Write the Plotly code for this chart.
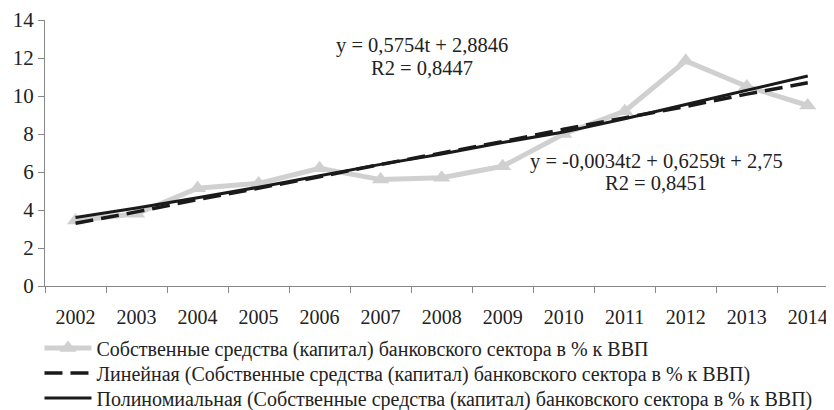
import plotly.graph_objects as go

years = ["2002", "2003", "2004", "2005", "2006", "2007", "2008",
         "2009", "2010", "2011", "2012", "2013", "2014"]
capital_pct = [3.45, 3.8, 5.15, 5.4, 6.2, 5.6, 5.7, 6.3, 8.0, 9.2, 11.85, 10.5, 9.5]
linear_trend = [3.3, 3.9, 4.55, 5.15, 5.75, 6.4, 7.0, 7.6, 8.25, 8.85, 9.45, 10.1, 10.7]
poly_trend = [3.6, 4.1, 4.65, 5.2, 5.8, 6.4, 6.95, 7.55, 8.1, 8.8, 9.55, 10.3, 11.05]

series_name = "Собственные средства (капитал) банковского сектора в % к ВВП"
FONT = "'Liberation Serif', 'Times New Roman', serif"
TXT = "#222"

fig = go.Figure()
fig.add_trace(go.Scatter(
    x=years, y=capital_pct, name=series_name, legend="legend",
    mode="lines+markers",
    line=dict(color="#d0d0d0", width=5),
    marker=dict(symbol="triangle-up", size=15, color="#d0d0d0"),
))
fig.add_trace(go.Scatter(
    x=years, y=linear_trend, name=f"Линейная ({series_name})", legend="legend2",
    mode="lines",
    line=dict(color="#1a1a1a", width=3.5, dash="18px,8px"),
))
fig.add_trace(go.Scatter(
    x=years, y=poly_trend, name=f"Полиномиальная ({series_name})", legend="legend3",
    mode="lines",
    line=dict(color="#1a1a1a", width=3),
))

# trend equations, one annotation per text line
for x, y, txt in [
    (5.67, 12.68, "y = 0,5754t + 2,8846"),
    (5.67, 11.47, "R2 = 0,8447"),
    (9.52, 6.53, "y = -0,0034t2 + 0,6259t + 2,75"),
    (9.52, 5.42, "R2 = 0,8451"),
]:
    fig.add_annotation(x=x, y=y, xref="x", yref="y", showarrow=False, text=txt,
                       font=dict(family=FONT, size=20.5, color=TXT))

legend_style = dict(x=-0.007, xanchor="left", yanchor="middle",
                    font=dict(family=FONT, size=20, color=TXT),
                    bgcolor="rgba(0,0,0,0)", itemwidth=47)

# page body has an 8px margin, so the figure is a bit smaller than the window
fig.update_layout(
    width=826, height=402,
    margin=dict(l=37, r=0, t=12, b=124, autoexpand=False),
    paper_bgcolor="white", plot_bgcolor="white",
    font=dict(family=FONT, size=20, color=TXT),
    showlegend=True,
    legend=dict(y=-62 / 266, **legend_style),
    legend2=dict(y=-87 / 266, **legend_style),
    legend3=dict(y=-112 / 266, **legend_style),
    xaxis=dict(type="category", range=[-0.5, 12.43], showgrid=False,
               showline=True, linecolor="#888", linewidth=1, automargin=False,
               ticks="outside", tickson="boundaries", ticklen=6, tickcolor="#888",
               ticklabelstandoff=13,
               tickfont=dict(family=FONT, size=20)),
    yaxis=dict(range=[0, 14], dtick=2, showgrid=False, zeroline=False,
               showline=True, linecolor="#888", linewidth=1, automargin=False,
               ticks="outside", ticklen=6, tickcolor="#888",
               tickfont=dict(family=FONT, size=21)),
)

fig.write_html("out.html")
